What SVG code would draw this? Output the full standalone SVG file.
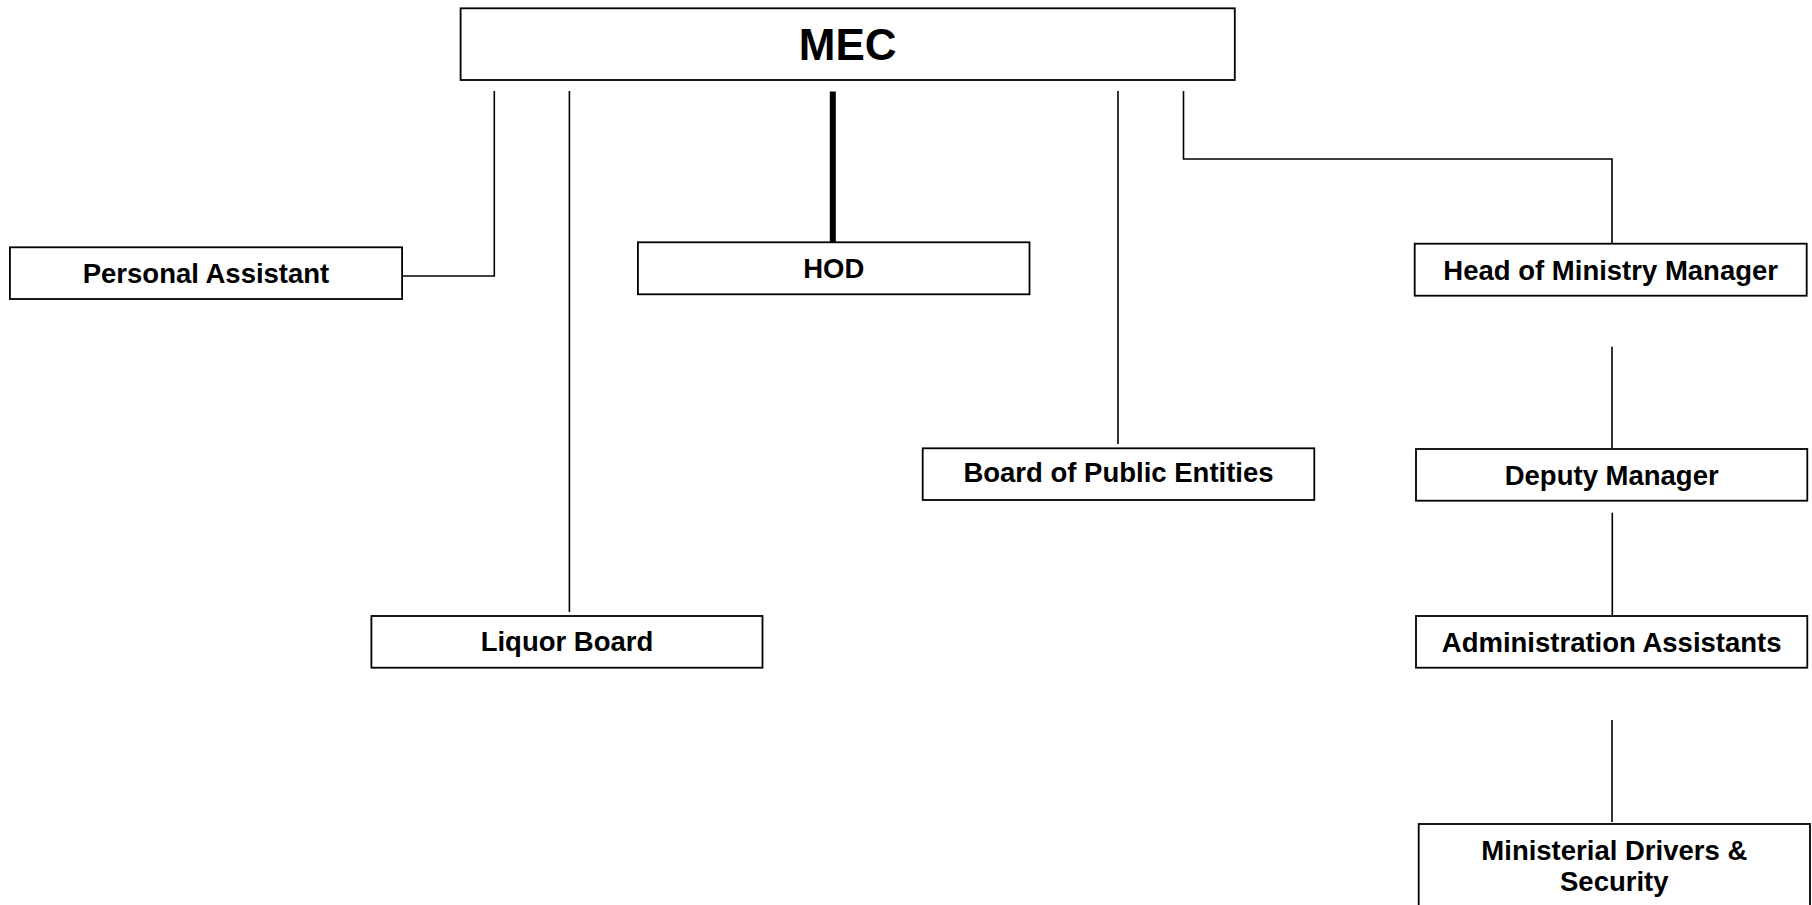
<svg xmlns="http://www.w3.org/2000/svg" width="1812" height="905" viewBox="0 0 1812 905">
  <style>
    .box { fill: #ffffff; stroke: #000000; stroke-width: 1.8; }
    .lbl { font-family: "Liberation Sans", Arial, sans-serif; font-weight: bold; font-size: 27.5px; fill: #000000; text-anchor: middle; }
    .title { font-size: 44px; }
    .link { fill: none; stroke: #000000; stroke-width: 1.6; }
    .link-main { fill: none; stroke: #000000; stroke-width: 6; }
  </style>
  <rect width="1812" height="905" fill="#ffffff"/>

  <!-- reporting lines -->
  <g id="connectors">
    <polyline class="link" points="494.3,91 494.3,276 402,276"/>
    <line class="link" x1="569.4" y1="91" x2="569.4" y2="612"/>
    <line class="link-main" x1="832.8" y1="91.5" x2="832.8" y2="242.5"/>
    <line class="link" x1="1118" y1="91" x2="1118" y2="444"/>
    <polyline class="link" points="1183.5,91 1183.5,159 1612,159 1612,243.7"/>
    <line class="link" x1="1612" y1="346.7" x2="1612" y2="448"/>
    <line class="link" x1="1612.3" y1="512.7" x2="1612.3" y2="615"/>
    <line class="link" x1="1612" y1="720" x2="1612" y2="822"/>
  </g>

  <g id="mec">
    <rect class="box" x="460.6" y="8.3" width="774.2" height="71.7"/>
    <text class="lbl title" x="847.7" y="60">MEC</text>
  </g>

  <g id="personal-assistant">
    <rect class="box" x="9.9" y="247.3" width="392.2" height="51.7"/>
    <text class="lbl" x="206" y="283.3">Personal Assistant</text>
  </g>

  <g id="hod">
    <rect class="box" x="637.9" y="242.3" width="391.6" height="52"/>
    <text class="lbl" x="833.7" y="278.3">HOD</text>
  </g>

  <g id="head-of-ministry-manager">
    <rect class="box" x="1414.7" y="243.7" width="392" height="52"/>
    <text class="lbl" x="1610.7" y="280">Head of Ministry Manager</text>
  </g>

  <g id="board-of-public-entities">
    <rect class="box" x="922.7" y="448.3" width="391.6" height="51.7"/>
    <text class="lbl" x="1118.5" y="482.3">Board of Public Entities</text>
  </g>

  <g id="deputy-manager">
    <rect class="box" x="1416" y="449" width="391.3" height="51.7"/>
    <text class="lbl" x="1611.7" y="485">Deputy Manager</text>
  </g>

  <g id="liquor-board">
    <rect class="box" x="371.4" y="616" width="391.1" height="51.7"/>
    <text class="lbl" x="567" y="650.7">Liquor Board</text>
  </g>

  <g id="administration-assistants">
    <rect class="box" x="1416" y="616" width="391.3" height="51.7"/>
    <text class="lbl" x="1611.7" y="651.7">Administration Assistants</text>
  </g>

  <g id="ministerial-drivers-security">
    <rect class="box" x="1418.7" y="824" width="391.3" height="100"/>
    <text class="lbl" x="1614.3" y="860">Ministerial Drivers &amp;</text>
    <text class="lbl" x="1614.3" y="890.7">Security</text>
  </g>
</svg>
